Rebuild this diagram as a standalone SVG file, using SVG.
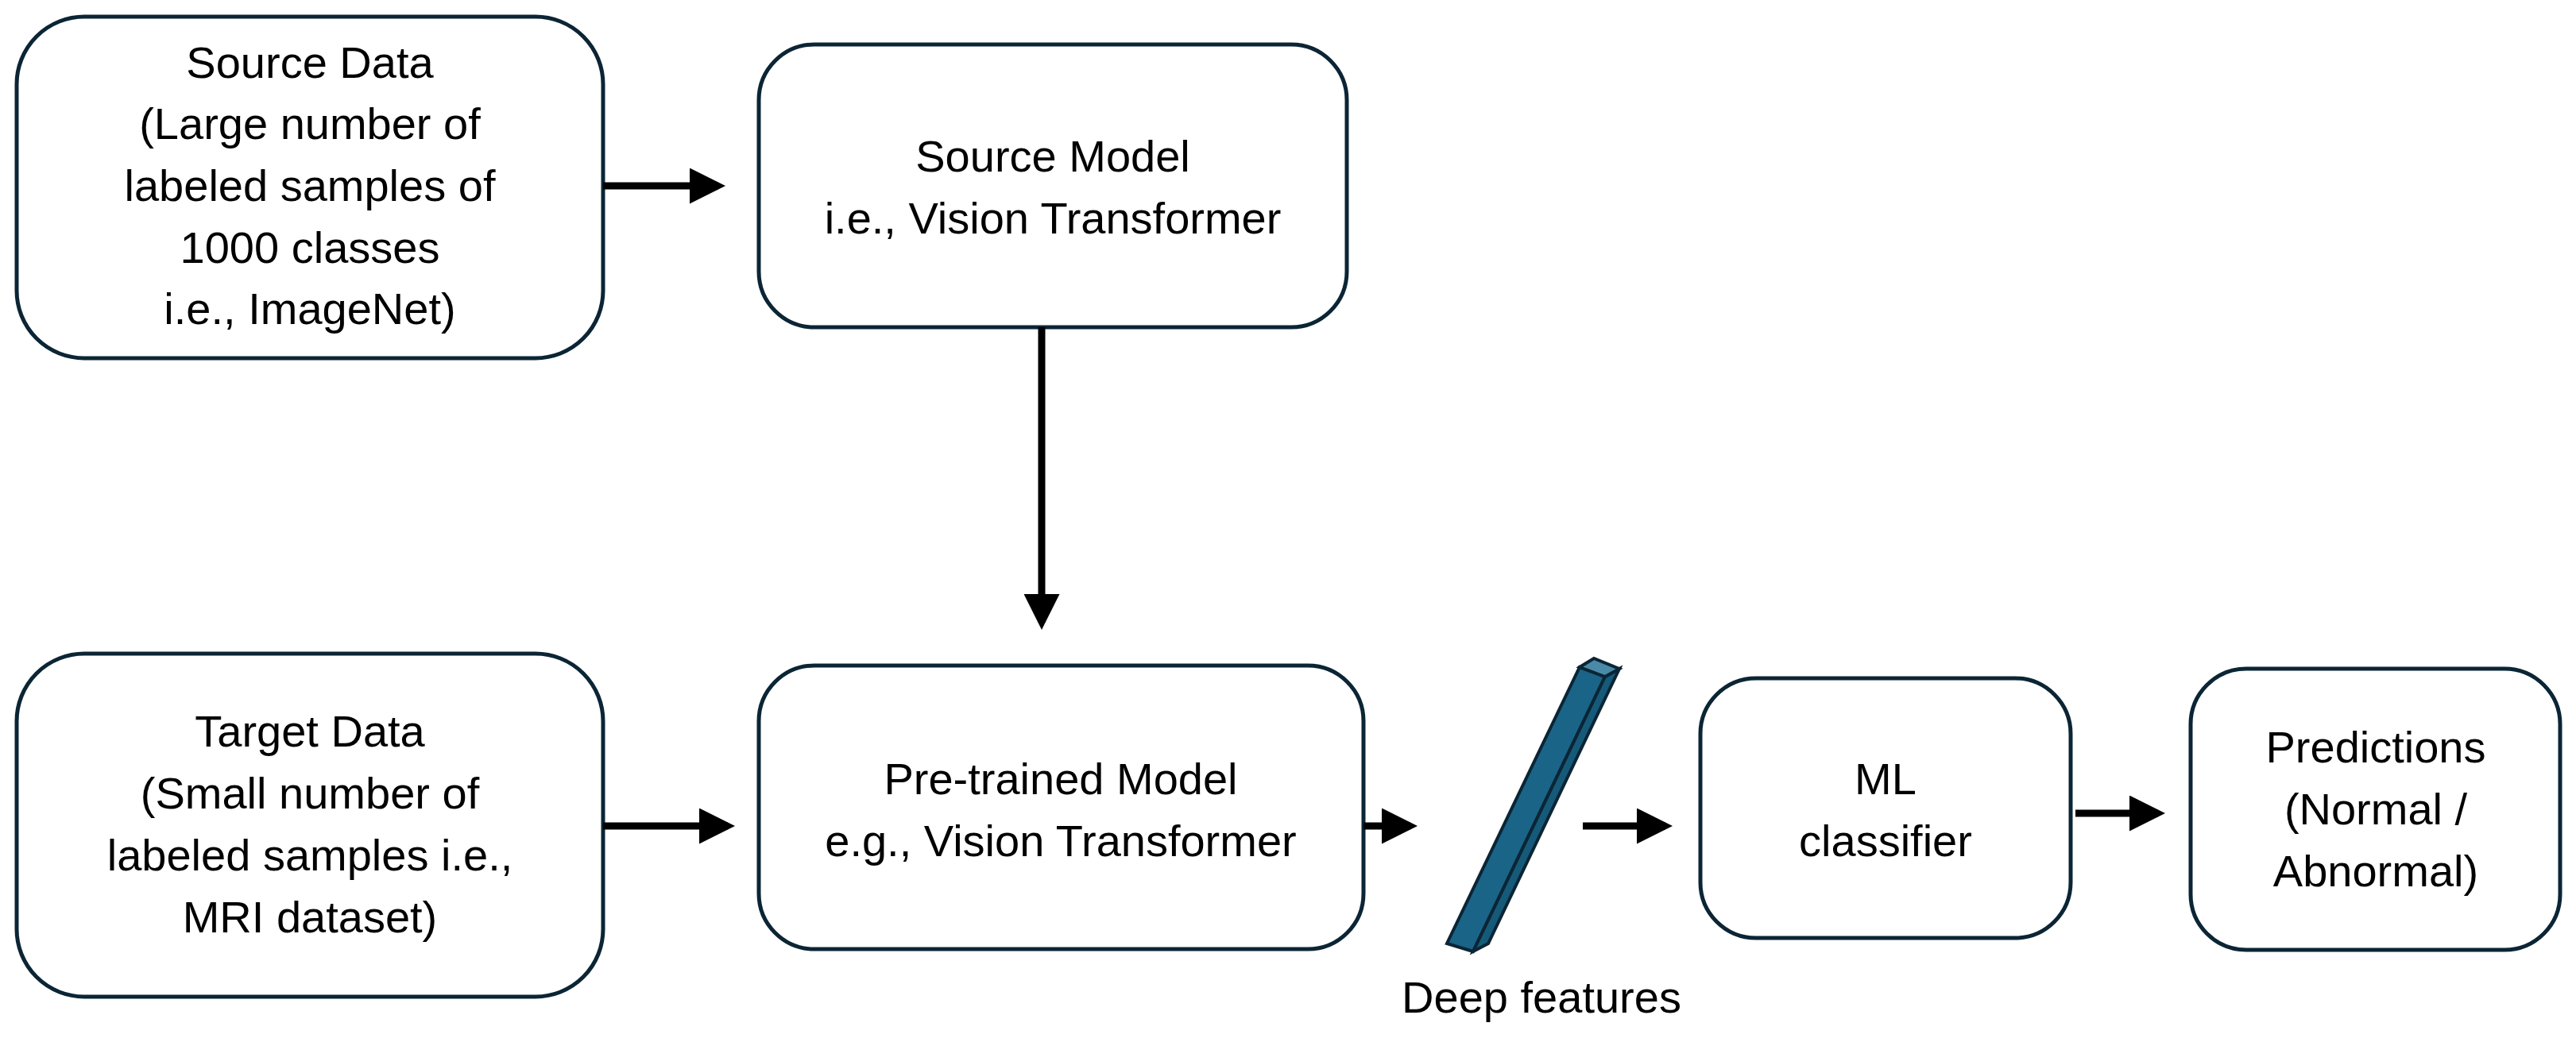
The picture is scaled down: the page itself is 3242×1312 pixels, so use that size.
<svg xmlns="http://www.w3.org/2000/svg" width="3242" height="1312" viewBox="0 0 3242 1312">
<defs>
<style>
.box{fill:#fff;stroke:#0b2535;stroke-width:5}
.t{font-family:"Liberation Sans",Arial,sans-serif;font-size:56px;fill:#000;text-anchor:middle}
.c{stroke:#000;stroke-width:9;fill:none}
</style>
<marker id="ah" markerWidth="5" markerHeight="5" refX="4" refY="2.5" orient="auto" markerUnits="strokeWidth"><path d="M0,0 L5,2.5 L0,5 z" fill="#000"/></marker>
</defs>
<rect width="3242" height="1312" fill="#fff"/>
<g id="source-data"><rect class="box" x="21" y="21" width="738" height="430" rx="85"/>
<text class="t" x="390" y="98">Source Data</text><text class="t" x="390" y="175">(Large number of</text><text class="t" x="390" y="253">labeled samples of</text><text class="t" x="390" y="331">1000 classes</text><text class="t" x="390" y="408">i.e., ImageNet)</text></g>
<g id="source-model"><rect class="box" x="955" y="56" width="740" height="356" rx="70"/>
<text class="t" x="1325" y="216">Source Model</text><text class="t" x="1325" y="294">i.e., Vision Transformer</text></g>
<g id="target-data"><rect class="box" x="21" y="823" width="738" height="432" rx="85"/>
<text class="t" x="390" y="940">Target Data</text><text class="t" x="390" y="1018">(Small number of</text><text class="t" x="390" y="1096">labeled samples i.e.,</text><text class="t" x="390" y="1174">MRI dataset)</text></g>
<g id="pretrained"><rect class="box" x="955" y="838" width="761" height="357" rx="70"/>
<text class="t" x="1335" y="1000">Pre-trained Model</text><text class="t" x="1335" y="1078">e.g., Vision Transformer</text></g>
<g id="deep-features">
<polygon points="1988,840 2020,852 1854,1198 1821,1188" fill="#1a6487" stroke="#0b2535" stroke-width="4"/>
<polygon points="2020,852 2038,842 1873,1188 1854,1198" fill="#165a7a" stroke="#0b2535" stroke-width="4"/>
<polygon points="1988,840 2006,829 2038,842 2020,852" fill="#4a8aa8" stroke="#0b2535" stroke-width="4"/>
<text class="t" x="1940" y="1275">Deep features</text></g>
<g id="ml"><rect class="box" x="2140" y="854" width="466" height="327" rx="70"/>
<text class="t" x="2373" y="1000">ML</text><text class="t" x="2373" y="1078">classifier</text></g>
<g id="predictions"><rect class="box" x="2757" y="842" width="465" height="354" rx="70"/>
<text class="t" x="2990" y="960">Predictions</text><text class="t" x="2990" y="1038">(Normal /</text><text class="t" x="2990" y="1116">Abnormal)</text></g>
<g id="connectors">
<line class="c" x1="759" y1="234" x2="904" y2="234" marker-end="url(#ah)"/>
<line class="c" x1="1311" y1="412" x2="1311" y2="784" marker-end="url(#ah)"/>
<line class="c" x1="759" y1="1040" x2="916" y2="1040" marker-end="url(#ah)"/>
<line class="c" x1="1716" y1="1040" x2="1775" y2="1040" marker-end="url(#ah)"/>
<line class="c" x1="1992" y1="1040" x2="2096" y2="1040" marker-end="url(#ah)"/>
<line class="c" x1="2612" y1="1024" x2="2716" y2="1024" marker-end="url(#ah)"/>
</g>
</svg>
